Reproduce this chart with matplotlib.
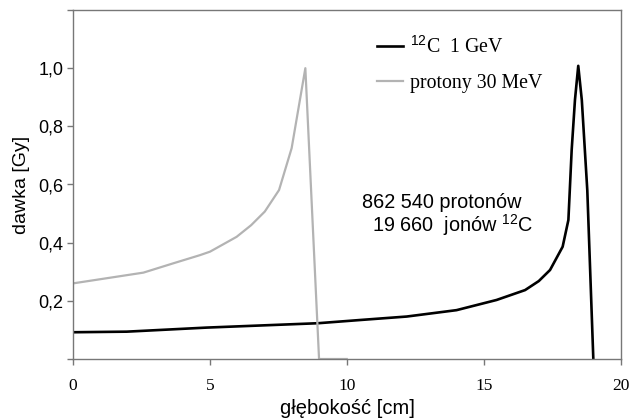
import matplotlib
matplotlib.use("Agg")
import matplotlib.pyplot as plt

plt.rcParams['mathtext.fontset'] = 'custom'
plt.rcParams['mathtext.rm'] = 'Liberation Sans'
plt.rcParams['mathtext.it'] = 'Liberation Sans:italic'
plt.rcParams['mathtext.bf'] = 'Liberation Sans:bold'

# Carbon ions 12C 1 GeV
carbon_depth = [0.0, 1.96, 4.88, 8.94, 10.47, 12.18, 14.0, 15.46, 16.5, 17.0,
                17.41, 17.87, 18.08, 18.2, 18.32, 18.44, 18.57, 18.77, 18.99]
carbon_dose = [0.092, 0.094, 0.108, 0.123, 0.134, 0.146, 0.168, 0.203, 0.237, 0.268,
               0.306, 0.386, 0.478, 0.719, 0.891, 1.008, 0.89, 0.58, 0.0]

# Protons 30 MeV
proton_depth = [0.0, 2.57, 3.66, 4.63, 5.0, 5.97, 6.5, 7.0, 7.52, 7.98, 8.48, 8.98, 9.99]
proton_dose = [0.26, 0.297, 0.329, 0.357, 0.369, 0.42, 0.46, 0.507, 0.581, 0.725, 1.0, 0.0, 0.0]

xticks = [0, 5, 10, 15, 20]
yticks = [0.0, 0.2, 0.4, 0.6, 0.8, 1.0, 1.2]
ytick_labels = ['', '0,2', '0,4', '0,6', '0,8', '1,0', '']

fig = plt.figure(figsize=(6.31, 4.19), dpi=100)
ax = fig.add_axes([73/631, 1-359/419, (621-73)/631, (359-10)/419])

l1, = ax.plot(carbon_depth, carbon_dose, color='black', lw=1.9, label=r'$^{12}$C  1 GeV')
l2, = ax.plot(proton_depth, proton_dose, color='#b3b3b3', lw=1.6, label='protony 30 MeV')

ax.set_xlim(0, 20)
ax.set_ylim(0, 1.2)
ax.set_xticks(xticks)
ax.set_xticklabels([str(t) for t in xticks], family='Liberation Serif', fontsize=12.5)
ax.set_yticks(yticks)
ax.set_yticklabels(ytick_labels, family='Liberation Sans', fontsize=13)
ax.tick_params(axis='both', direction='out', length=4, width=1, color='#777777')
ax.tick_params(axis='x', pad=10)
ax.tick_params(axis='y', pad=3)
for s in ax.spines.values():
    s.set_color('#777777')
    s.set_linewidth(1)

ax.set_xlabel('głębokość [cm]', family='Liberation Sans', fontsize=14.5, labelpad=3)
ax.set_ylabel('dawka [Gy]', family='Liberation Sans', fontsize=14, labelpad=6)

leg = ax.legend(handles=[l1, l2], loc='upper left', frameon=False,
                bbox_to_anchor=(377/631, 1-36/419), bbox_transform=fig.transFigure,
                prop={'family': 'Liberation Serif', 'size': 14.3},
                handlelength=1.3, handletextpad=0.35, labelspacing=0.82,
                borderpad=0, borderaxespad=0)

txt1 = fig.text(362/631, 1-203/419, '862 540 protonów', fontsize=14.3,
                family='Liberation Sans', va='center', ha='left')
txt2 = fig.text(372/631, 1-225/419, r'19 660  jonów $^{12}$C', fontsize=14.3,
                family='Liberation Sans', va='center', ha='left')

fig.savefig('out.png', dpi=100)
